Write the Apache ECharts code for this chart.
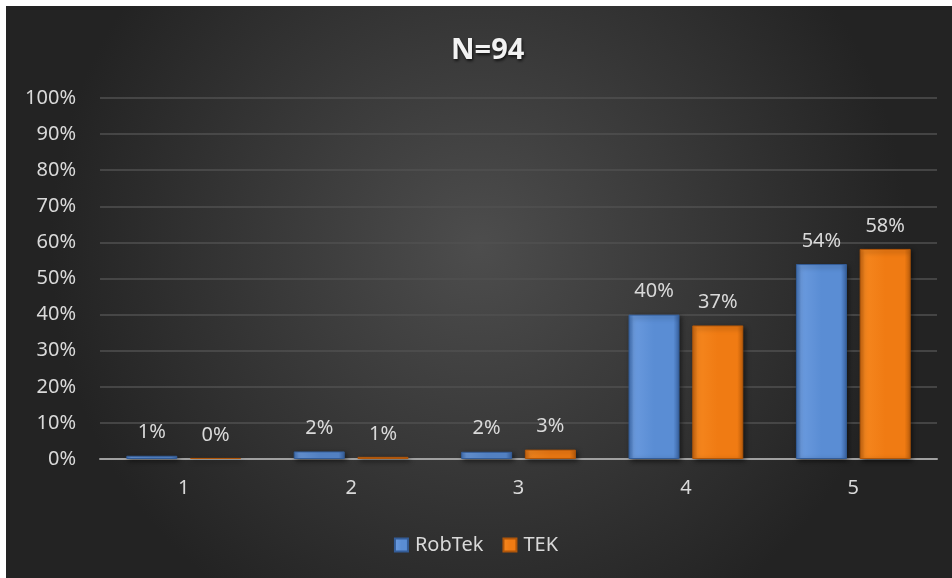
<!DOCTYPE html>
<html><head><meta charset="utf-8">
<script src="https://cdn.jsdelivr.net/npm/echarts@6/dist/echarts.min.js"></script>
<style>html,body{margin:0;padding:0;background:#fff}#c{width:952px;height:578px}</style>
</head><body><div id="c"></div>
<script>
const categories = ['1', '2', '3', '4', '5'];
const robtek = [0.9, 2.1, 2.0, 40.0, 54.0];
const tek = [0.3, 0.6, 2.6, 37.0, 58.2];
const yTicks = [0, 10, 20, 30, 40, 50, 60, 70, 80, 90, 100];
const seriesNames = ['RobTek', 'TEK'];

const FONT = '"Noto Sans", "Open Sans", sans-serif';
const chart = echarts.init(document.getElementById('c'), null, {renderer: 'canvas'});

function barGrad(edgeL, light, mid, edgeR) {
  return new echarts.graphic.LinearGradient(0, 0, 1, 0, [
    {offset: 0, color: edgeL},
    {offset: 0.1, color: light},
    {offset: 0.5, color: mid},
    {offset: 0.88, color: mid},
    {offset: 1, color: edgeR}
  ]);
}
const blueFill = barGrad('#3f6fb3', '#6a9ade', '#5a8dd4', '#3a64a3');
const orangeFill = barGrad('#c9650f', '#f5861e', '#f07b13', '#c0600c');

const labelCfg = {
  show: true, position: 'top', distance: 13,
  color: '#d9d9d9', fontFamily: FONT, fontSize: 20,
  formatter: p => Math.round(p.value) + '%'
};

chart.setOption({
  backgroundColor: '#ffffff',
  animation: false,
  graphic: [{
    type: 'rect', z: -10, silent: true,
    shape: {x: 6, y: 6, width: 946, height: 572},
    style: {
      fill: new echarts.graphic.RadialGradient(0.5, 0.42, 0.75, [
        {offset: 0, color: '#4d4d4d'},
        {offset: 1, color: '#232323'}
      ])
    }
  }],
  title: {
    text: 'N=94', left: 446, top: 31,
    textStyle: {
      color: '#f2f2f2', fontFamily: FONT, fontSize: 29, fontWeight: 'bold',
      textShadowColor: 'rgba(0,0,0,0.7)', textShadowBlur: 3, textShadowOffsetX: 1, textShadowOffsetY: 2
    }
  },
  legend: {
    data: seriesNames, top: 530, left: 'center',
    itemWidth: 13, itemHeight: 13, itemGap: 19, icon: 'rect',
    textStyle: {color: '#d9d9d9', fontFamily: FONT, fontSize: 20, padding: [0, 0, 0, 2]}
  },
  grid: {left: 100, right: 15, top: 98, bottom: 119},
  xAxis: {
    type: 'category', data: categories,
    axisLine: {lineStyle: {color: '#a0a0a0', width: 2}},
    axisTick: {show: false},
    axisLabel: {color: '#d9d9d9', fontFamily: FONT, fontSize: 20, margin: 19}
  },
  yAxis: {
    type: 'value', min: 0, max: 100, interval: 10,
    axisLine: {show: false}, axisTick: {show: false},
    axisLabel: {
      color: '#d9d9d9', fontFamily: FONT, fontSize: 20, margin: 24,
      formatter: v => (yTicks.includes(v) ? v + '%' : '')
    },
    splitLine: {lineStyle: {color: '#505050', width: 1.5}}
  },
  series: [
    {
      name: seriesNames[0], type: 'bar', data: robtek, barWidth: 51, barGap: '25%',
      itemStyle: {color: blueFill, borderColor: '#345d98', borderWidth: 1,
        shadowColor: 'rgba(0,0,0,0.55)', shadowBlur: 5, shadowOffsetX: 2, shadowOffsetY: 2},
      label: labelCfg
    },
    {
      name: seriesNames[1], type: 'bar', data: tek, barWidth: 51,
      itemStyle: {color: orangeFill, borderColor: '#b0560a', borderWidth: 1,
        shadowColor: 'rgba(0,0,0,0.55)', shadowBlur: 5, shadowOffsetX: 2, shadowOffsetY: 2},
      label: labelCfg
    }
  ]
});
</script></body></html>
